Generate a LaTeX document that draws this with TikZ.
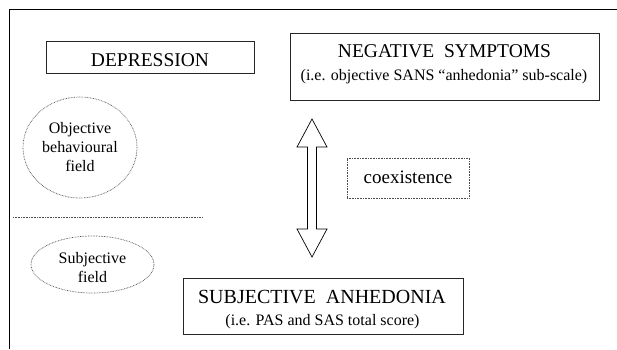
\documentclass[tikz,border=0pt]{standalone}
\usepackage{fontspec}
\setmainfont{Liberation Serif}
\usetikzlibrary{shapes.geometric,calc}
\tikzset{
  boxline/.style={draw=black!85, line width=0.9pt},
  dotline/.style={draw=black!70, line width=0.7pt, dash pattern=on 0.7pt off 0.9pt},
  txt/.style={inner sep=0pt, anchor=base},
  big/.style={font=\fontsize{19.5}{22}\selectfont},
  small/.style={font=\fontsize{16}{18}\selectfont},
  fieldtxt/.style={inner sep=0pt, align=center, font=\fontsize{16}{19}\selectfont}
}
\begin{document}
\begin{tikzpicture}[x=1pt,y=-1pt]
\useasboundingbox (0,0) rectangle (617,349);
% frame
\coordinate (fr) at (9,9);
\coordinate (frR) at (617,9);
\coordinate (frB) at (9,349);
\draw[black, line width=0.9pt] (frB) -- (fr) -- (frR);

% DEPRESSION
\node[boxline, rectangle, minimum width=208pt, minimum height=32pt, inner sep=0pt] (dep) at (150,57) {};
\node[txt, big] (deptxt) at (150,66) {DEPRESSION};

% NEGATIVE SYMPTOMS
\node[boxline, rectangle, minimum width=309pt, minimum height=67pt, inner sep=0pt] (neg) at (444.5,66.5) {};
\node[txt, big] (negt1) at (444.5,57.5) {NEGATIVE\ \ SYMPTOMS};
\node[txt, small] (negt2) at (444,80.5) {(i.e. objective SANS “anhedonia” sub-scale)};

% ellipses
\node[dotline, ellipse, minimum width=114pt, minimum height=101pt, inner sep=0pt] (obj) at (80,147.5) {};
\node[fieldtxt] (objtxt) at (80,147) {Objective\\behavioural\\field};

\coordinate (dl1) at (13,217);
\coordinate (dl2) at (202,217);
\draw[dotline] (dl1) -- (dl2);

\node[dotline, ellipse, minimum width=123pt, minimum height=57pt, inner sep=0pt] (subj) at (92.5,264.5) {};
\node[fieldtxt] (subjtxt) at (92.5,268) {Subjective\\field};

% coexistence
\node[dotline, rectangle, minimum width=122pt, minimum height=40pt, inner sep=0pt] (coex) at (408,178) {};
\node[txt, font=\fontsize{19}{22}\selectfont] (coextxt) at (408,183.5) {coexistence};

% SUBJECTIVE ANHEDONIA
\node[boxline, rectangle, minimum width=280pt, minimum height=56pt, inner sep=0pt] (sa) at (323,306) {};
\node[txt, font=\fontsize{20}{22}\selectfont] (sat1) at (322,303) {SUBJECTIVE\ \ ANHEDONIA};
\node[txt, small] (sat2) at (322.5,325.5) {(i.e. PAS and SAS total score)};

% double arrow
\coordinate (arr) at (312,188);
\draw[black, line width=0.7pt, line join=miter]
  ($(arr)+(0,-69)$) -- ($(arr)+(15,-41)$) -- ($(arr)+(4.5,-41)$) -- ($(arr)+(4.5,41)$)
  -- ($(arr)+(15,41)$) -- ($(arr)+(0,69)$) -- ($(arr)+(-15,41)$) -- ($(arr)+(-4.5,41)$)
  -- ($(arr)+(-4.5,-41)$) -- ($(arr)+(-15,-41)$) -- cycle;
\end{tikzpicture}
\end{document}
